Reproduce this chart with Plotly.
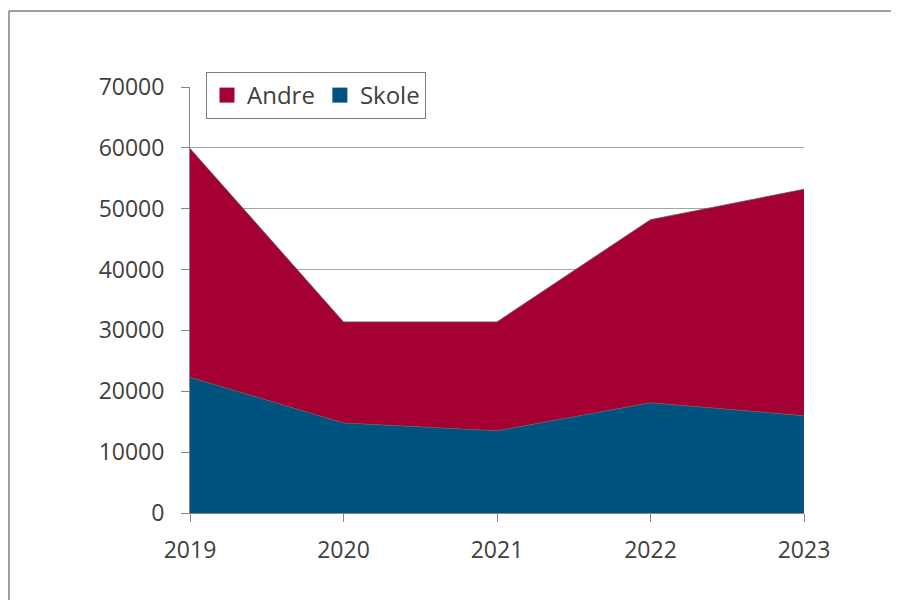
import plotly.graph_objects as go

years = [2019, 2020, 2021, 2022, 2023]
skole = [22300, 14800, 13500, 18100, 16000]
andre = [37600, 16600, 17900, 30100, 37200]
y_ticks = [0, 10000, 20000, 30000, 40000, 50000, 60000, 70000]

RED, BLUE = "#A50034", "#00527F"
FONT = "Open Sans"
fig = go.Figure()
fig.add_trace(go.Scatter(x=years, y=skole, name="Skole", stackgroup="one", mode="lines",
                         line=dict(color="#5a5a5a", width=0.8), fillcolor=BLUE, showlegend=False))
fig.add_trace(go.Scatter(x=years, y=andre, name="Andre", stackgroup="one", mode="lines",
                         line=dict(color="#5a5a5a", width=0.8), fillcolor=RED, showlegend=False))
# legend entries (square swatches)
for name, col in [("Andre", RED), ("Skole", BLUE)]:
    fig.add_trace(go.Scatter(x=[None], y=[None], name=name, mode="markers",
                             marker=dict(symbol="square", size=15, color=col)))

OFF = 8  # page offset of the figure (body margin)
W, H = 899 - 2 * OFF, 608 - 2 * OFF
L, T = 190 - OFF, 87 - OFF
R = OFF + W - 804
B = OFF + H - 513
pw, ph = W - L - R, H - T - B
fx = lambda px: (px - 190) / pw
fy = lambda py: (513 - py) / ph
fig.update_layout(
    width=W, height=H,
    margin=dict(l=L, r=R, t=T, b=B, pad=0),
    paper_bgcolor="white", plot_bgcolor="white",
    font=dict(family=FONT, size=23, color="#404040"),
    legend=dict(orientation="h", x=fx(206), y=fy(72),
                xanchor="left", yanchor="top", bordercolor="#7f7f7f", borderwidth=1,
                bgcolor="white", font=dict(size=24, color="#404040"),
                itemwidth=30, tracegroupgap=0, traceorder="normal"),
    xaxis=dict(range=[2019, 2023], tickvals=years, ticks="outside", ticklen=8,
               tickcolor="#868686", showline=True, linecolor="#868686", linewidth=1,
               showgrid=False, zeroline=False, ticklabelstandoff=8),
    yaxis=dict(range=[0, 70000], tickvals=y_ticks, tickformat="d", ticks="outside", ticklen=8,
               tickcolor="#868686", showline=True, linecolor="#868686", linewidth=1,
               showgrid=True, gridcolor="#a6a6a6", gridwidth=1, zeroline=False,
               ticklabelstandoff=12),
    shapes=[
        dict(type="line", xref="paper", yref="paper", x0=fx(9), x1=fx(9), y0=fy(11), y1=fy(OFF + H),
             line=dict(color="#7f7f7f", width=1.5), layer="below"),
        dict(type="line", xref="paper", yref="paper", x0=fx(9), x1=fx(OFF + W), y0=fy(11), y1=fy(11),
             line=dict(color="#7f7f7f", width=1.5), layer="below"),
    ],
)
fig.write_html("out.html")
